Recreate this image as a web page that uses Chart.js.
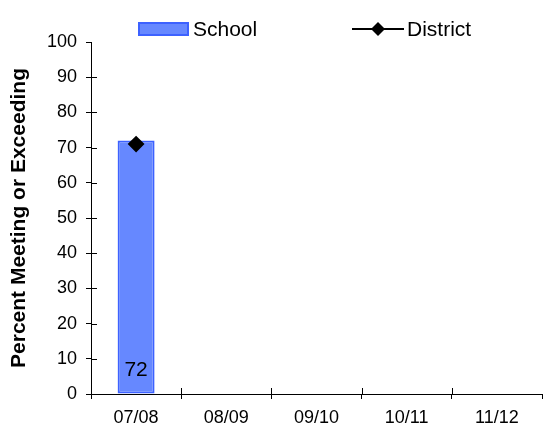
<!DOCTYPE html>
<html>
<head>
<meta charset="utf-8">
<script src="https://cdn.jsdelivr.net/npm/chart.js@4.4.0/dist/chart.umd.min.js"></script>
<style>
  html, body { margin: 0; padding: 0; background: #fff; }
  #wrap { width: 543px; height: 432px; }
</style>
</head>
<body>
<div id="wrap"><canvas id="myChart"></canvas></div>
<script>
const years = ['07/08', '08/09', '09/10', '10/11', '11/12'];
const school = [72, null, null, null, null];
const district = [71, null, null, null, null];
const yMin = 0, yMax = 100, yStep = 10;

const barFill = '#6688ff';
const barEdge = '#3d62ff';
const font = 'Arial, "Liberation Sans", sans-serif';

// tick marks crossing into the plot area, like the original
const innerTicks = {
  id: 'innerTicks',
  afterDraw(chart) {
    const { ctx, chartArea, scales } = chart;
    ctx.save();
    ctx.strokeStyle = '#000';
    ctx.lineWidth = 1;
    ctx.beginPath();
    for (let v = yMin; v < yMax; v += yStep) {
      const y = Math.round(scales.y.getPixelForValue(v)) + 0.5;
      ctx.moveTo(chartArea.left, y);
      ctx.lineTo(chartArea.left + 6, y);
    }
    for (let i = 1; i < years.length; i++) {
      const x = Math.round((scales.x.getPixelForValue(i - 1) + scales.x.getPixelForValue(i)) / 2) + 0.5;
      ctx.moveTo(x, chartArea.bottom);
      ctx.lineTo(x, chartArea.bottom - 6);
    }
    ctx.stroke();
    ctx.restore();
  }
};

// value written at the foot of each bar
const barLabels = {
  id: 'barLabels',
  afterDatasetsDraw(chart) {
    const { ctx, scales } = chart;
    const meta = chart.getDatasetMeta(1);
    ctx.save();
    ctx.fillStyle = '#000';
    ctx.font = '21px ' + font;
    ctx.textAlign = 'center';
    ctx.textBaseline = 'middle';
    meta.data.forEach((bar, i) => {
      if (school[i] == null) return;
      ctx.fillText(String(school[i]), bar.x, scales.y.getPixelForValue(0) - 24);
    });
    ctx.restore();
  }
};

// legend drawn by hand to sit where the original has it
const topLegend = {
  id: 'topLegend',
  afterDraw(chart) {
    const ctx = chart.ctx;
    const cy = 29;
    ctx.save();
    ctx.fillStyle = barFill;
    ctx.fillRect(138, 22, 51, 14);
    ctx.strokeStyle = barEdge;
    ctx.lineWidth = 2;
    ctx.strokeRect(139, 23, 49, 12);

    ctx.strokeStyle = '#000';
    ctx.lineWidth = 2;
    ctx.beginPath();
    ctx.moveTo(352, cy);
    ctx.lineTo(404, cy);
    ctx.stroke();
    ctx.fillStyle = '#000';
    ctx.beginPath();
    ctx.moveTo(378, cy - 7);
    ctx.lineTo(385, cy);
    ctx.lineTo(378, cy + 7);
    ctx.lineTo(371, cy);
    ctx.closePath();
    ctx.fill();

    ctx.font = '21px ' + font;
    ctx.textBaseline = 'middle';
    ctx.textAlign = 'left';
    ctx.fillText('School', 193, cy + 1);
    ctx.fillText('District', 407, cy + 1);
    ctx.restore();
  }
};

document.addEventListener('DOMContentLoaded', function() {
  const ctx = document.getElementById('myChart');

  new Chart(ctx, {
    data: {
      labels: years,
      datasets: [{
        type: 'line',
        label: 'District',
        data: district,
        borderColor: '#000',
        backgroundColor: '#000',
        borderWidth: 2,
        pointStyle: 'rectRot',
        pointRadius: 7,
        pointHoverRadius: 7,
        order: 1
      },
      {
        type: 'bar',
        label: 'School',
        data: school,
        backgroundColor: barFill,
        borderColor: barEdge,
        borderWidth: 2,
        borderSkipped: false,
        barPercentage: 0.41,
        categoryPercentage: 1,
        order: 2
      }]
    },
    options: {
      responsive: true,
      maintainAspectRatio: false,
      animation: false,
      layout: { autoPadding: false, padding: { top: 42, right: 1, left: 0, bottom: 0 } },
      plugins: {
        legend: { display: false },
        tooltip: { enabled: false }
      },
      scales: {
        x: {
          offset: true,
          grid: { offset: true, drawOnChartArea: false, tickLength: 5, color: '#000' },
          border: { color: '#000' },
          ticks: { color: '#000', padding: 8, font: { family: font, size: 18 }, maxRotation: 0 },
          afterFit(scale) {
            scale.height = 38;
            scale.paddingLeft = 0;
            scale.paddingRight = 0;
          }
        },
        y: {
          min: yMin,
          max: yMax,
          grid: { drawOnChartArea: false, tickLength: 5, color: '#000' },
          border: { color: '#000' },
          ticks: { stepSize: yStep, color: '#000', padding: 9, font: { family: font, size: 18 } },
          title: {
            display: true,
            text: 'Percent Meeting or Exceeding',
            color: '#000',
            padding: { top: 7, bottom: 0 },
            font: { family: font, size: 21, weight: 'bold' }
          },
          afterFit(scale) { scale.width = 91; }
        }
      }
    },
    plugins: [innerTicks, barLabels, topLegend]
  });
});
</script>
</body>
</html>
